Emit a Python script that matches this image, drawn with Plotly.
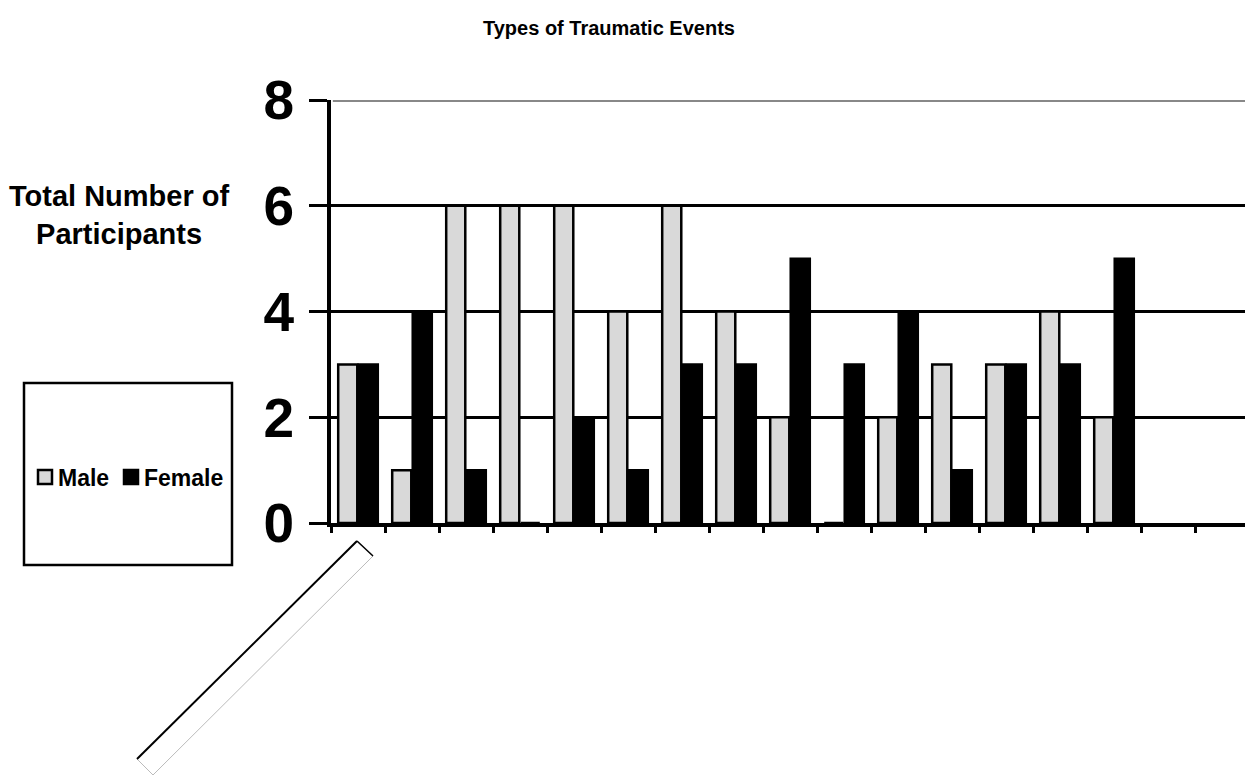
import plotly.graph_objects as go

# ---- data ----
categories = list(range(1, 16))  # traumatic event types (labels not shown in chart)
male = [3, 1, 6, 6, 6, 4, 6, 4, 2, 0, 2, 3, 3, 4, 2]
female = [3, 4, 1, 0, 2, 1, 3, 3, 5, 3, 4, 1, 3, 3, 5]
y_ticks = [0, 2, 4, 6, 8]
series_names = ["Male", "Female"]
series_colors = ["#d9d9d9", "#000000"]

W, H = 1245, 775
L, R, T, B = 331, 0, 100, 252
pw, ph = W - L - R, H - T - B
cat_px = 54.0


def px_x(p):
    return (p - L) / pw


def px_y(p):
    return (H - B - p) / ph


FONT = "Arial, Liberation Sans, sans-serif"

fig = go.Figure()
for name, vals, col in zip(series_names, [male, female], series_colors):
    fig.add_trace(go.Bar(
        x=categories, y=vals, name=name,
        marker=dict(color=col, line=dict(color="#000000", width=2.5)),
        showlegend=False,
    ))

x0 = categories[0] - 0.5
x1 = x0 + pw / cat_px
boundaries = [categories[0] - 0.5 + k for k in range(len(categories) + 3)]

fig.update_layout(
    width=W, height=H, autosize=False,
    margin=dict(l=L, r=R, t=T, b=B, pad=0),
    paper_bgcolor="white", plot_bgcolor="white",
    barmode="group", bargap=0.24, bargroupgap=0.07,
    font=dict(family=FONT, color="black"),
    xaxis=dict(
        range=[x0, x1], tickvals=boundaries, ticktext=[""] * len(boundaries),
        ticks="outside", ticklen=6, tickwidth=3, tickcolor="black",
        showline=True, linecolor="black", linewidth=4,
        showgrid=False, zeroline=False, fixedrange=True,
    ),
    yaxis=dict(
        range=[0, 8], tickvals=y_ticks,
        ticktext=[f"<b>{v}</b>" for v in y_ticks],
        tickfont=dict(size=55, family=FONT, color="black"),
        ticks="outside", ticklen=18, tickwidth=3, tickcolor="black",
        ticklabelstandoff=4,
        showline=True, linecolor="black", linewidth=4,
        showgrid=True, gridcolor="black", gridwidth=3,
        zeroline=False, fixedrange=True,
    ),
)

# gray top gridline at 8
fig.add_shape(type="line", xref="paper", yref="y", x0=0.002, x1=1, y0=8, y1=8,
              line=dict(color="#888888", width=4), layer="above")

# title
fig.add_annotation(text="<b>Types of Traumatic Events</b>", xref="paper", yref="paper",
                   x=px_x(609), y=px_y(28), xanchor="center", yanchor="middle",
                   showarrow=False, font=dict(size=20, family=FONT, color="black"))

# y-axis title (horizontal, two lines)
fig.add_annotation(text="<b>Total Number of<br>Participants</b>", xref="paper", yref="paper",
                   x=px_x(119), y=px_y(215), xanchor="center", yanchor="middle",
                   showarrow=False, align="center",
                   font=dict(size=29, family=FONT, color="black"))

# legend box
fig.add_shape(type="rect", xref="paper", yref="paper",
              x0=px_x(24), x1=px_x(232), y0=px_y(383), y1=px_y(565),
              line=dict(color="black", width=2.5), fillcolor="white", layer="above")
leg_items = [(38, 56, series_names[0], series_colors[0]),
             (124, 142, series_names[1], series_colors[1])]
for sx, tx, name, col in leg_items:
    fig.add_shape(type="rect", xref="paper", yref="paper",
                  x0=px_x(sx), x1=px_x(sx + 14), y0=px_y(470), y1=px_y(484),
                  line=dict(color="black", width=2.5), fillcolor=col, layer="above")
    fig.add_annotation(text=f"<b>{name}</b>", xref="paper", yref="paper",
                       x=px_x(tx), y=px_y(478), xanchor="left", yanchor="middle",
                       showarrow=False, font=dict(size=23, family=FONT, color="black"))

# empty rotated category-label box
pts = [(357, 541), (373, 556), (153, 775), (137, 759)]
path = "M " + " L ".join(f"{px_x(a)},{px_y(b)}" for a, b in pts) + " Z"
fig.add_shape(type="path", xref="paper", yref="paper", path=path,
              line=dict(color="#bbbbbb", width=1), fillcolor="white", layer="above")
fig.add_shape(type="line", xref="paper", yref="paper",
              x0=px_x(137), y0=px_y(759), x1=px_x(357), y1=px_y(541),
              line=dict(color="black", width=2), layer="above")
fig.add_shape(type="line", xref="paper", yref="paper",
              x0=px_x(357), y0=px_y(541), x1=px_x(373), y1=px_y(556),
              line=dict(color="black", width=1.5), layer="above")

fig.write_html("out.html", include_plotlyjs=True, config={"displayModeBar": False},
               post_script="document.body.style.margin='0';")
